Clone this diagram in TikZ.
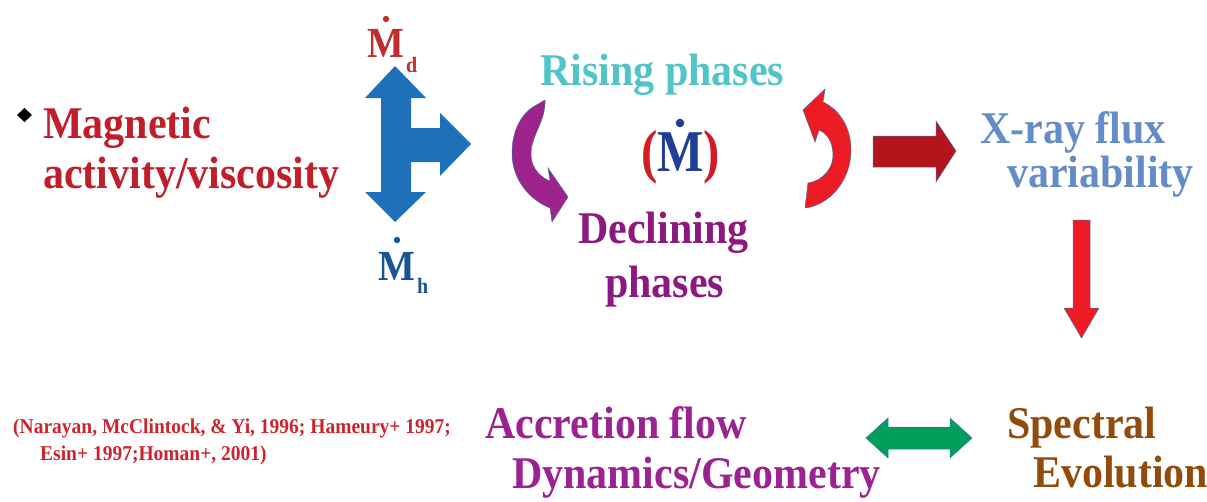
\documentclass[tikz,border=0pt]{standalone}
\usepackage{fontspec}
\setmainfont{Liberation Serif}
\definecolor{cMag}{RGB}{192,30,42}
\definecolor{cMd}{RGB}{192,45,45}
\definecolor{cBlueArr}{RGB}{30,112,185}
\definecolor{cMh}{RGB}{25,85,150}
\definecolor{cRise}{RGB}{80,196,200}
\definecolor{cParen}{RGB}{210,28,35}
\definecolor{cMdot}{RGB}{32,62,150}
\definecolor{cDecl}{RGB}{140,25,125}
\definecolor{cPurpArr}{RGB}{158,35,140}
\definecolor{cRedArr}{RGB}{237,28,36}
\definecolor{cDarkRed}{RGB}{180,20,28}
\definecolor{cXray}{RGB}{100,140,200}
\definecolor{cAccr}{RGB}{155,35,145}
\definecolor{cGreen}{RGB}{0,160,92}
\definecolor{cSpec}{RGB}{145,75,10}
\definecolor{cRef}{RGB}{205,35,45}
\definecolor{cEdge}{RGB}{70,110,160}
\newcommand{\tallbox}[1]{\scalebox{1}[1.08]{#1}}
\begin{document}
\begin{tikzpicture}[x=1pt,y=-1pt,
  txt/.style={anchor=base west, inner sep=0pt, font=\bfseries\fontsize{42}{50}\selectfont},
  reftxt/.style={anchor=base west, inner sep=0pt, font=\bfseries\fontsize{19.5}{22}\selectfont, text=cRef},
  blockarrow/.style={line width=0.5pt, draw=cEdge, line join=miter}]
\useasboundingbox (0,0) rectangle (1207,501);

% bullet
\fill[black] (24.5,108) -- (32,115) -- (24.5,122) -- (17,115) -- cycle;
\node[txt, text=cMag] (mag1) at (43,138) {\tallbox{Magnetic}};
\node[txt, text=cMag] (mag2) at (43,188) {\tallbox{activity/viscosity}};

% M dot d
\node[anchor=base west, inner sep=0pt, font=\bfseries\fontsize{39}{45}\selectfont, text=cMd] (md) at (367,57) {\scalebox{1}[1.1]{M}};
\node[anchor=base west, inner sep=0pt, font=\bfseries\fontsize{20}{24}\selectfont, text=cMd] (mdsub) at (406,72) {\scalebox{1}[1.1]{d}};
\fill[cMd] (386,19) circle (3.2);
% M dot h
\node[anchor=base west, inner sep=0pt, font=\bfseries\fontsize{39}{45}\selectfont, text=cMh] (mh) at (378,280) {\scalebox{1}[1.1]{M}};
\node[anchor=base west, inner sep=0pt, font=\bfseries\fontsize{20}{24}\selectfont, text=cMh] (mhsub) at (417,293) {\scalebox{1}[1.1]{h}};
\fill[cMh] (397,240) circle (3.2);

% blue T arrow
\fill[cBlueArr] (395,66) -- (426,98) -- (411,98) -- (411,128) -- (440,128) -- (440,113) -- (471,144) -- (440,176) -- (440,162) -- (411,162) -- (411,192) -- (426,192) -- (395,222) -- (365,192) -- (381,192) -- (381,98) -- (365,98) -- cycle;

% rising / declining
\node[txt, text=cRise] (rise) at (540,85) {\tallbox{Rising phases}};
\node[txt, text=cDecl] (decl1) at (578,243) {\tallbox{Declining}};
\node[txt, text=cDecl] (decl2) at (605,297) {\tallbox{phases}};

% (M dot)
\node[anchor=base west, inner sep=0pt, font=\bfseries\fontsize{57}{60}\selectfont] (mdot) at (641,171)
  {\scalebox{0.86}[1.04]{\textcolor{cParen}{(}\textcolor{cMdot}{M}\textcolor{cParen}{)}}};
\fill[cMdot] (680,123) circle (4.3);

% purple curved arrow
\filldraw[blockarrow, fill=cPurpArr] (545,100) .. controls (546,122) and (530,136) .. (531,156) .. controls (532,170) and (542,178) .. (550,181) -- (548,168) -- (568,197) -- (552,222) -- (550,208) .. controls (530,200) and (512,180) .. (512,153) .. controls (512,130) and (522,114) .. (533,107) -- cycle;
% red curved arrow
\filldraw[blockarrow, fill=cRedArr] (805,208) -- (808,183) .. controls (825,180) and (834,166) .. (833,153) .. controls (832,142) and (828,134) .. (819,130) -- (815,142) -- (803,110) -- (825,89) -- (823,102) .. controls (840,110) and (851,128) .. (851,150) .. controls (851,180) and (830,205) .. (805,208) -- cycle;

% dark red right arrow
\filldraw[blockarrow, fill=cDarkRed] (873,136) -- (936,136) -- (936,121) -- (956,151) -- (936,182) -- (936,167) -- (873,167) -- cycle;

% X-ray
\node[txt, text=cXray] (x1) at (980,143) {\tallbox{X-ray flux}};
\node[txt, text=cXray] (x2) at (1007,187) {\tallbox{variability}};

% red down arrow
\filldraw[blockarrow, fill=cRedArr] (1073,220) -- (1090,220) -- (1090,308) -- (1099,308) -- (1081.5,338) -- (1064,308) -- (1073,308) -- cycle;

% reference
\node[reftxt] (ref1) at (13,433) {\tallbox{(Narayan, McClintock, \& Yi, 1996; Hameury+ 1997;}};
\node[reftxt] (ref2) at (40,460) {\tallbox{Esin+ 1997;Homan+, 2001)}};

% accretion
\node[txt, text=cAccr] (acc1) at (485,438) {\tallbox{Accretion flow}};
\node[txt, text=cAccr] (acc2) at (512,488) {\tallbox{Dynamics/Geometry}};

% green double arrow
\filldraw[blockarrow, fill=cGreen] (866,438) -- (888,418) -- (888,427) -- (950,427) -- (950,418) -- (972,438) -- (950,458) -- (950,449) -- (888,449) -- (888,458) -- cycle;

% spectral
\node[txt, text=cSpec] (sp1) at (1007,438) {\tallbox{Spectral}};
\node[txt, text=cSpec] (sp2) at (1033,487) {\tallbox{Evolution}};
\end{tikzpicture}
\end{document}
